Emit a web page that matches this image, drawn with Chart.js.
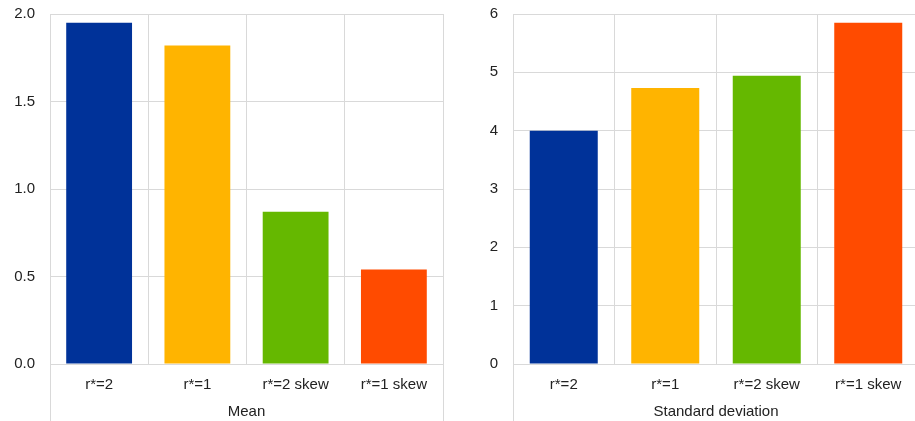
<!DOCTYPE html>
<html>
<head>
<meta charset="utf-8">
<script src="https://cdn.jsdelivr.net/npm/chart.js@4"></script>
<style>
  html, body { margin: 0; padding: 0; background: #fff; overflow: hidden; }
  body { width: 915px; height: 421px; position: relative; }
  .box { position: absolute; top: 0; height: 421px; }
  #leftBox { left: 0; width: 455px; }
  #rightBox { left: 460px; width: 459px; }
</style>
</head>
<body>
<div class="box" id="leftBox"><canvas id="meanChart"></canvas></div>
<div class="box" id="rightBox"><canvas id="sdChart"></canvas></div>
<script>
const categories = ['r*=2', 'r*=1', 'r*=2 skew', 'r*=1 skew'];
const meanValues = [1.95, 1.82, 0.87, 0.54];
const sdValues = [4.0, 4.73, 4.94, 5.85];
const barColors = ['#003299', '#ffb400', '#65b800', '#ff4b00'];
const meanAxis = { min: 0, max: 2, step: 0.5, decimals: 1 };
const sdAxis = { min: 0, max: 6, step: 1, decimals: 0 };

Chart.defaults.font.family = '"Liberation Sans", Arial, sans-serif';
Chart.defaults.font.size = 15;
Chart.defaults.color = '#222';

const gridColor = '#d9d9d9';

// outer category lines continue down through the label area
const frameLines = {
    id: 'frameLines',
    afterDraw(chart) {
        const { ctx, chartArea } = chart;
        ctx.save();
        ctx.strokeStyle = gridColor;
        ctx.lineWidth = 1;
        ctx.beginPath();
        [chartArea.left, chartArea.right].forEach(x => {
            const px = Math.round(x) + 0.5;
            ctx.moveTo(px, chartArea.bottom);
            ctx.lineTo(px, chart.height);
        });
        ctx.stroke();
        ctx.restore();
    }
};

function makeChart(id, values, axis, title, yWidth, padRight) {
    return new Chart(document.getElementById(id), {
        type: 'bar',
        data: {
            labels: categories,
            datasets: [{
                data: values,
                backgroundColor: barColors,
                borderWidth: 0,
                barPercentage: 0.67,
                categoryPercentage: 1
            }]
        },
        options: {
            responsive: true,
            maintainAspectRatio: false,
            animation: false,
            layout: { padding: { top: 14, right: padRight, bottom: 0, left: 0 } },
            plugins: { legend: { display: false }, tooltip: { enabled: false } },
            scales: {
                x: {
                    grid: { color: gridColor, drawTicks: false, offset: true },
                    border: { color: gridColor },
                    ticks: { padding: 12, maxRotation: 0 },
                    title: { display: true, text: title, padding: { top: 4, bottom: 0 } },
                    afterFit(scale) {
                        scale.height = 57;
                        scale.paddingLeft = 0;
                        scale.paddingRight = 0;
                    }
                },
                y: {
                    min: axis.min,
                    max: axis.max,
                    grid: { color: gridColor, drawTicks: false },
                    border: { display: false },
                    ticks: {
                        stepSize: axis.step,
                        padding: 15,
                        callback: v => Number(v).toFixed(axis.decimals)
                    },
                    afterFit(scale) {
                        scale.width = yWidth;
                        scale.paddingTop = 0;
                        scale.paddingBottom = 0;
                    }
                }
            }
        },
        plugins: [frameLines]
    });
}

makeChart('meanChart', meanValues, meanAxis, 'Mean', 50, 12);
makeChart('sdChart', sdValues, sdAxis, 'Standard deviation', 53, 0);
</script>
</body>
</html>
